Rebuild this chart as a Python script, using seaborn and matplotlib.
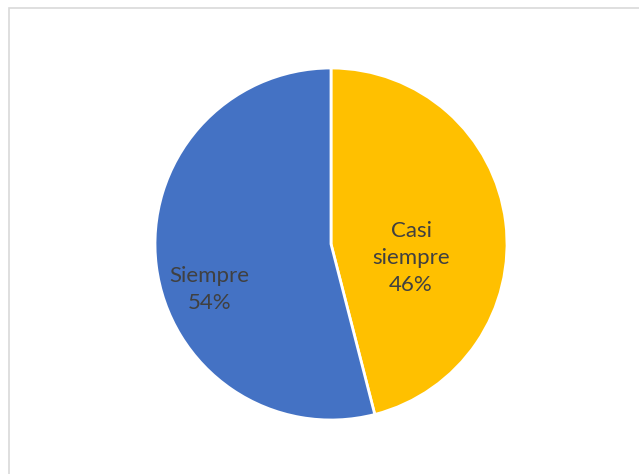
import seaborn as sns
import matplotlib.pyplot as plt
from matplotlib.patches import Rectangle

# data
categories = ["Casi\nsiempre", "Siempre"]
percents = [46, 54]
colors = ["#FFC000", "#4472C4"]

sns.set_theme(style="white")
plt.rcParams['font.family'] = ["Lato", "DejaVu Sans"]

fig = plt.figure(figsize=(6.39, 4.74), dpi=100)
W, H = 639, 474
# pie centre about (331, 244) px, radius 176 px
ax = fig.add_axes([155 / W, (H - 420) / H, 352 / W, 352 / H])

wedges, _ = ax.pie(percents, colors=colors, startangle=90, counterclock=False,
                   wedgeprops=dict(edgecolor="white", linewidth=2))
ax.set_xlim(-1, 1)
ax.set_ylim(-1, 1)
ax.set_aspect("equal")

# label positions as placed in the original (relative to the radius)
label_pos = [(0.455, -0.08), (-0.69, -0.26)]
for cat, p, (lx, ly) in zip(categories, percents, label_pos):
    ax.text(lx, ly, f"{cat}\n{p}%", ha="center", va="center",
            fontsize=16, color="#404040", linespacing=1.45)

# chart area border
fig.patches.append(Rectangle((9 / W, -0.1), 1.2, (H - 8) / H + 0.1,
                             transform=fig.transFigure, fill=False,
                             edgecolor="#D9D9D9", linewidth=1.2))

fig.savefig("out.png", dpi=100)
